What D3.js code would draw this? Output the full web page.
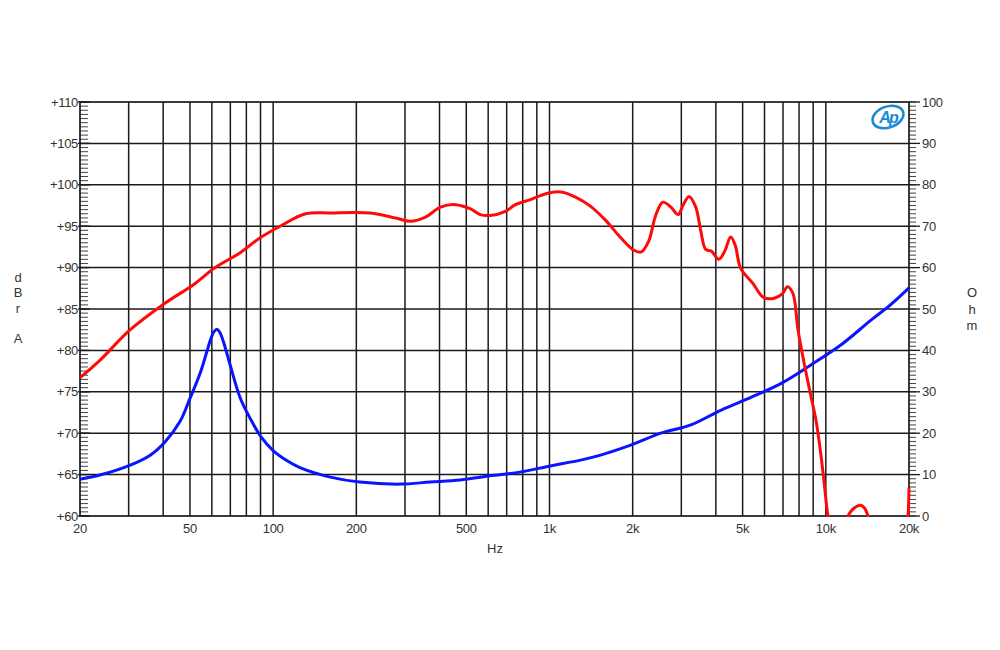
<!DOCTYPE html>
<html>
<head>
<meta charset="utf-8">
<script src="https://cdn.jsdelivr.net/npm/d3@7/dist/d3.min.js"></script>
<style>
html,body{margin:0;padding:0;background:#fff;}
svg{display:block;font-family:"Liberation Sans",Arial,sans-serif;}
</style>
</head>
<body>
<svg id="chart" width="1000" height="650"></svg>
<script>
// ---- data ----
const xTickValues = [20, 50, 100, 200, 500, 1000, 2000, 5000, 10000, 20000];
const xTickLabels = ["20", "50", "100", "200", "500", "1k", "2k", "5k", "10k", "20k"];
const leftTickValues = [60, 65, 70, 75, 80, 85, 90, 95, 100, 105, 110];
const leftTickLabels = ["+60", "+65", "+70", "+75", "+80", "+85", "+90", "+95", "+100", "+105", "+110"];
const rightTickValues = [0, 10, 20, 30, 40, 50, 60, 70, 80, 90, 100];
const rightTickLabels = ["0", "10", "20", "30", "40", "50", "60", "70", "80", "90", "100"];

// SPL response (dBrA)
const splFreq = [20, 23.6, 30.4, 40.6, 51.3, 61.7, 76, 89.7, 106, 131, 161, 225, 277, 314, 356, 403, 457, 518, 562, 609, 693, 753, 853, 928, 1026, 1117, 1242, 1409, 1597, 1811, 2018, 2150, 2286, 2423, 2570, 2750, 2920, 3050, 3200, 3383, 3525, 3674, 3850, 4100, 4309, 4526, 4700, 4920, 5446, 5950, 6500, 6985, 7270, 7600, 7930, 8330, 8830, 9210, 9590, 9900, 10175, 10600, 11200, 12020, 12700, 13400, 13900, 14200, 15000, 17000, 19000, 19600, 19830, 20000];
const splValues = [76.7, 78.8, 82.5, 85.7, 87.9, 90.0, 91.8, 93.6, 95.0, 96.5, 96.6, 96.6, 96.0, 95.6, 96.1, 97.3, 97.6, 97.1, 96.4, 96.3, 96.8, 97.6, 98.2, 98.7, 99.1, 99.1, 98.5, 97.4, 95.7, 93.6, 92.1, 91.9, 93.2, 96.3, 97.9, 97.3, 96.4, 97.6, 98.6, 97.3, 94.5, 92.2, 92.0, 91.0, 92.0, 93.7, 92.7, 89.9, 88.1, 86.4, 86.3, 86.9, 87.7, 86.9, 82.5, 78.6, 74.5, 71.6, 67.5, 63.5, 60.0, 57.0, 56.0, 60.0, 61.0, 61.3, 60.8, 60.0, 57.0, 55.0, 56.0, 59.0, 60.0, 63.4];

// Impedance (Ohm)
const impFreq = [20, 23.6, 30.4, 35.9, 40.6, 46, 50, 54.5, 57.5, 59.5, 61.2, 62.6, 64.1, 66.3, 70, 76, 82.7, 90, 100, 112, 125, 161, 206, 288, 370, 475, 609, 782, 1006, 1296, 1530, 1967, 2530, 3250, 4185, 5380, 6920, 8830, 11330, 14570, 17130, 20000];
const impValues = [8.9, 9.9, 12.3, 14.7, 17.9, 22.8, 28.4, 34.6, 39.6, 42.8, 44.6, 45.1, 44.4, 41.8, 36.3, 28.5, 23.5, 19.3, 15.8, 13.4, 11.7, 9.4, 8.2, 7.7, 8.2, 8.7, 9.7, 10.6, 12.1, 13.5, 14.7, 17.1, 20.0, 22.0, 25.6, 28.7, 32.1, 36.5, 41.3, 47.3, 51.0, 55.1];

// ---- layout ----
const svg = d3.select("#chart");
const L = 80, R = 909, T = 102, B = 516;

const x = d3.scaleLog().domain([20, 20000]).range([L, R]);
const yL = d3.scaleLinear().domain([60, 110]).range([B, T]);
const yR = d3.scaleLinear().domain([0, 100]).range([B, T]);

const gridColor = "#1a1a1a";
const textColor = "#333";

// vertical grid lines (1..9 per decade)
const vGrid = [];
[10, 100, 1000, 10000].forEach(d => { for (let k = 1; k <= 9; k++) { const f = d * k; if (f > 20 && f < 20000) vGrid.push(f); } });
svg.append("g").selectAll("line").data(vGrid).join("line")
  .attr("x1", d => x(d)).attr("x2", d => x(d))
  .attr("y1", T).attr("y2", B)
  .attr("stroke", gridColor).attr("stroke-width", 1.5);

// horizontal grid lines
svg.append("g").selectAll("line").data(leftTickValues.slice(1, -1)).join("line")
  .attr("x1", L).attr("x2", R)
  .attr("y1", d => yL(d)).attr("y2", d => yL(d))
  .attr("stroke", gridColor).attr("stroke-width", 1.5);

// left minor ticks (inside, every 0.5 dB)
const leftMinor = d3.range(60, 110.01, 0.5);
svg.append("g").selectAll("line").data(leftMinor).join("line")
  .attr("x1", L).attr("x2", L + 8)
  .attr("y1", d => yL(d)).attr("y2", d => yL(d))
  .attr("stroke", "#444").attr("stroke-width", 1);

// right minor ticks (outside, every 1 ohm)
const rightMinor = d3.range(0, 100.01, 1);
svg.append("g").selectAll("line").data(rightMinor).join("line")
  .attr("x1", R).attr("x2", R + 7)
  .attr("y1", d => yR(d)).attr("y2", d => yR(d))
  .attr("stroke", "#444").attr("stroke-width", 1);

// major ticks right
svg.append("g").selectAll("line").data(rightTickValues).join("line")
  .attr("x1", R).attr("x2", R + 11)
  .attr("y1", d => yR(d)).attr("y2", d => yR(d))
  .attr("stroke", gridColor).attr("stroke-width", 1.3);
// major ticks left
svg.append("g").selectAll("line").data(leftTickValues).join("line")
  .attr("x1", L - 2).attr("x2", L + 10)
  .attr("y1", d => yL(d)).attr("y2", d => yL(d))
  .attr("stroke", gridColor).attr("stroke-width", 1.3);

// frame
svg.append("rect").attr("x", L).attr("y", T).attr("width", R - L).attr("height", B - T)
  .attr("fill", "none").attr("stroke", gridColor).attr("stroke-width", 1.7);

// axes labels
const fs = 13;
svg.append("g").selectAll("text").data(leftTickValues).join("text")
  .attr("x", L - 2).attr("y", d => yL(d)).attr("dy", "0.35em")
  .attr("text-anchor", "end").attr("font-size", fs).attr("fill", textColor)
  .attr("letter-spacing", "-0.3")
  .text((d, i) => leftTickLabels[i]);

svg.append("g").selectAll("text").data(rightTickValues).join("text")
  .attr("x", R + 13).attr("y", d => yR(d)).attr("dy", "0.35em")
  .attr("text-anchor", "start").attr("font-size", fs).attr("fill", textColor)
  .attr("letter-spacing", "-0.3")
  .text((d, i) => rightTickLabels[i]);

svg.append("g").selectAll("text").data(xTickValues).join("text")
  .attr("x", d => x(d)).attr("y", B + 12).attr("dy", "0.35em")
  .attr("text-anchor", "middle").attr("font-size", fs).attr("fill", textColor)
  .attr("letter-spacing", "-0.3")
  .text((d, i) => xTickLabels[i]);

// axis titles
svg.append("text").attr("x", 495).attr("y", 548).attr("dy", "0.35em")
  .attr("text-anchor", "middle").attr("font-size", fs).attr("fill", textColor).text("Hz");

const leftTitle = [["d", 277], ["B", 292], ["r", 308], ["A", 338]];
svg.append("g").selectAll("text").data(leftTitle).join("text")
  .attr("x", 18).attr("y", d => d[1]).attr("dy", "0.35em")
  .attr("text-anchor", "middle").attr("font-size", fs).attr("fill", textColor).text(d => d[0]);

const rightTitle = [["O", 292], ["h", 309], ["m", 325]];
svg.append("g").selectAll("text").data(rightTitle).join("text")
  .attr("x", 972).attr("y", d => d[1]).attr("dy", "0.35em")
  .attr("text-anchor", "middle").attr("font-size", fs).attr("fill", textColor).text(d => d[0]);

// logo
const logo = svg.append("g").attr("transform", "translate(888,117)");
logo.append("ellipse").attr("rx", 16).attr("ry", 10.5).attr("fill", "#fff")
  .attr("stroke", "#1a8ad4").attr("stroke-width", 2.6).attr("transform", "rotate(-20)");
logo.append("text").attr("x", 0).attr("y", 0).attr("dy", "0.36em").attr("text-anchor", "middle")
  .attr("font-size", 16).attr("font-weight", "bold").attr("font-style", "italic")
  .attr("fill", "#1a8ad4").attr("letter-spacing", "-2").text("Ap");

// clip
svg.append("clipPath").attr("id", "plotclip").append("rect")
  .attr("x", L - 2).attr("y", T).attr("width", R - L + 4).attr("height", B - T + 1);

const plot = svg.append("g").attr("clip-path", "url(#plotclip)");

const lineImp = d3.line().x((d, i) => x(impFreq[i])).y(d => yR(d)).curve(d3.curveCatmullRom.alpha(0.5));
const lineSpl = d3.line().x((d, i) => x(splFreq[i])).y(d => yL(d)).curve(d3.curveCatmullRom.alpha(0.5));

plot.append("path").datum(impValues).attr("d", lineImp)
  .attr("fill", "none").attr("stroke", "#0a14ff").attr("stroke-width", 3).attr("stroke-linejoin", "round");
plot.append("path").datum(splValues).attr("d", lineSpl)
  .attr("fill", "none").attr("stroke", "#ff0a0a").attr("stroke-width", 3).attr("stroke-linejoin", "round");
</script>
</body>
</html>
